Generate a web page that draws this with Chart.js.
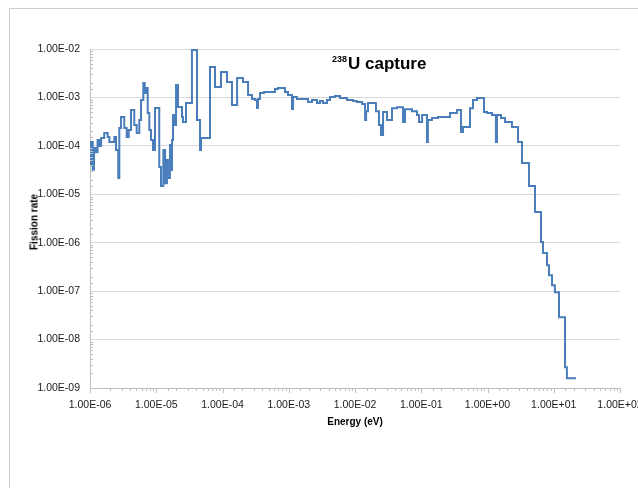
<!DOCTYPE html>
<html>
<head>
<meta charset="utf-8">
<script src="https://cdn.jsdelivr.net/npm/chart.js@4.4.1/dist/chart.umd.min.js"></script>
<style>
  html, body { margin: 0; padding: 0; background: #fff; width: 638px; height: 488px; overflow: hidden; }
  #frame { position: absolute; left: 9px; top: 8px; width: 660px; height: 520px; border: 1px solid #cfcfcf; box-sizing: border-box; }
  #wrap { position: absolute; left: 0; top: 0; width: 660px; height: 470px; }
  .title { position: absolute; left: 332px; top: 54px; font: bold 17px "Liberation Sans", Arial, sans-serif; color: #000; white-space: nowrap; line-height: 20px; }
  .title sup { font-size: 9px; line-height: 0; vertical-align: 7px; margin-right: 1px; }
  .ytitle { position: absolute; left: 34px; top: 222px; transform: translate(-50%, -50%) rotate(-90deg); font: bold 10px "Liberation Sans", Arial, sans-serif; color: #000; white-space: nowrap; }
  .xtitle { position: absolute; left: 355px; top: 421px; transform: translate(-50%, -50%); font: bold 10px "Liberation Sans", Arial, sans-serif; color: #000; white-space: nowrap; }
</style>
</head>
<body>
<div id="frame"></div>
<div id="wrap"><canvas id="c" width="660" height="470"></canvas></div>
<div class="title"><sup>238</sup>U capture</div>
<div class="ytitle">Fission rate</div>
<div class="xtitle">Energy (eV)</div>
<script>
// Group boundaries (eV); bin i spans binEdges[i] .. binEdges[i+1]
const binEdges = [
  1.00e-6, 1.035e-6, 1.10e-6, 1.15e-6, 1.23e-6, 1.30e-6, 1.38e-6, 1.47e-6, 1.64e-6, 1.85e-6,
  1.96e-6, 2.33e-6, 2.47e-6, 2.67e-6, 2.77e-6, 2.94e-6, 3.29e-6, 3.58e-6, 3.84e-6, 4.16e-6,
  4.66e-6, 5.07e-6, 5.55e-6, 5.89e-6, 6.38e-6, 6.69e-6, 7.00e-6, 7.43e-6, 7.86e-6, 8.33e-6,
  8.93e-6, 9.57e-6, 1.11e-5, 1.18e-5, 1.28e-5, 1.36e-5, 1.45e-5, 1.50e-5, 1.61e-5, 1.67e-5,
  1.73e-5, 1.79e-5, 1.92e-5, 1.99e-5, 2.13e-5, 2.45e-5, 2.53e-5, 2.81e-5, 3.46e-5, 4.12e-5,
  4.58e-5, 4.74e-5, 6.48e-5, 7.71e-5, 9.49e-5, 1.17e-4, 1.39e-4, 1.66e-4, 2.04e-4, 2.43e-4,
  2.79e-4, 3.09e-4, 3.32e-4, 3.43e-4, 3.68e-4, 4.23e-4, 6.20e-4, 6.88e-4, 8.78e-4, 9.74e-4,
  1.12e-3, 1.16e-3, 1.33e-3, 1.95e-3, 2.24e-3, 2.67e-3, 2.96e-3, 3.29e-3, 3.78e-3, 4.19e-3,
  4.99e-3, 5.94e-3, 7.57e-3, 9.33e-3, 1.07e-2, 1.28e-2, 1.42e-2, 1.47e-2, 1.57e-2, 2.07e-2,
  2.30e-2, 2.47e-2, 2.65e-2, 3.04e-2, 3.62e-2, 4.31e-2, 5.30e-2, 5.68e-2, 7.25e-2, 8.63e-2,
  9.25e-2, 1.03e-1, 1.22e-1, 1.26e-1, 1.45e-1, 1.79e-1, 2.72e-1, 3.46e-1, 3.98e-1, 4.27e-1,
  5.44e-1, 6.04e-1, 6.94e-1, 8.86e-1, 9.83e-1, 1.17, 1.34, 1.39, 1.60, 1.84,
  2.34, 2.89, 3.32, 4.23, 5.21, 6.42, 6.88, 7.91, 8.48, 9.41,
  10.4, 12.0, 14.8, 15.8, 21.7
];

// Group-wise rate, one value per bin
const captureRate = [
  4.0e-5, 1.2e-4, 3.2e-5, 9.0e-5, 7.4e-5, 1.32e-4, 9.9e-5, 1.45e-4, 1.84e-4, 1.52e-4,
  1.2e-4, 1.52e-4, 8.2e-5, 2.16e-5, 2.33e-4, 3.94e-4, 2.33e-4, 1.52e-4, 2.12e-4, 5.5e-4,
  2.69e-4, 1.84e-4, 3.41e-4, 8.8e-4, 1.99e-3, 1.23e-3, 1.56e-3, 4.76e-4, 2.12e-4, 1.32e-4,
  8.2e-5, 6.04e-4, 3.65e-5, 1.48e-5, 8.2e-5, 1.7e-5, 5.09e-5, 2.16e-5, 1.04e-4, 3.16e-5,
  1.32e-4, 4.33e-4, 2.69e-4, 1.8e-3, 6.33e-4, 3.94e-4, 3.1e-4, 7.66e-4, 9.53e-3, 3.41e-4,
  8.2e-5, 1.45e-4, 4.25e-3, 1.64e-3, 3.35e-3, 2.08e-3, 6.97e-4, 2.52e-3, 2.08e-3, 1.12e-3,
  9.27e-4, 8.8e-4, 6.04e-4, 9.27e-4, 1.23e-3, 1.29e-3, 1.49e-3, 1.56e-3, 1.29e-3, 1.12e-3,
  5.8e-4, 1.02e-3, 9.3e-4, 8.0e-4, 8.8e-4, 7.7e-4, 8.4e-4, 7.7e-4, 8.8e-4, 1.02e-3,
  1.07e-3, 9.7e-4, 8.8e-4, 8.4e-4, 8.0e-4, 7.3e-4, 3.4e-4, 5.2e-4, 7.7e-4, 5.2e-4,
  2.7e-4, 1.67e-4, 5.0e-4, 3.4e-4, 6.0e-4, 6.3e-4, 3.1e-4, 5.7e-4, 5.2e-4, 4.33e-4,
  3.1e-4, 4.33e-4, 1.2e-4, 3.4e-4, 3.75e-4, 3.94e-4, 4.76e-4, 5.5e-4, 1.93e-4, 2.45e-4,
  6.0e-4, 8.8e-4, 9.7e-4, 5.0e-4, 4.76e-4, 4.33e-4, 1.2e-4, 4.33e-4, 3.75e-4, 3.1e-4,
  2.45e-4, 1.2e-4, 4.4e-5, 1.48e-5, 4.3e-6, 1.03e-6, 6.1e-7, 3.44e-7, 2.14e-7, 1.33e-7,
  9.5e-8, 2.9e-8, 2.69e-9, 1.59e-9
];

// Axis limits (decades)
const energyRange = [1e-6, 1e2];
const rateRange = [1e-9, 1e-2];

// Step points: each bin value starts at its lower edge, last value closes at the top edge
const points = captureRate.map((v, i) => ({ x: binEdges[i], y: v }));
points.push({ x: binEdges[binEdges.length - 1], y: captureRate[captureRate.length - 1] });

function isDecade(v) {
  const l = Math.log10(v);
  return Math.abs(l - Math.round(l)) < 1e-6;
}
function sciLabel(v) {
  const e = Math.round(Math.log10(v));
  return '1.00E' + (e < 0 ? '-' : '+') + String(Math.abs(e)).padStart(2, '0');
}

// Short tick marks for every 1..9 step along both log axes
const minorTicks = {
  id: 'minorTicks',
  afterDraw(chart) {
    const ctx = chart.ctx;
    const xs = chart.scales.x, ys = chart.scales.y;
    ctx.save();
    ctx.strokeStyle = '#bfbfbf';
    ctx.lineWidth = 1;
    ctx.beginPath();
    xs.ticks.forEach(t => {
      const px = Math.round(xs.getPixelForValue(t.value)) + 0.5;
      const len = isDecade(t.value) ? 5 : 3;
      ctx.moveTo(px, xs.top);
      ctx.lineTo(px, xs.top + len);
    });
    ys.ticks.forEach(t => {
      if (isDecade(t.value)) return;
      const py = Math.round(ys.getPixelForValue(t.value)) + 0.5;
      ctx.moveTo(ys.right, py);
      ctx.lineTo(ys.right + 3, py);
    });
    ctx.stroke();
    ctx.restore();
  }
};

Chart.defaults.font.family = '"Liberation Sans", Arial, sans-serif';
Chart.defaults.font.size = 10.5;
Chart.defaults.color = '#1a1a1a';

new Chart(document.getElementById('c'), {
  type: 'line',
  data: {
    datasets: [{
      data: points,
      stepped: true,
      borderColor: '#4a7ebb',
      borderWidth: 2,
      pointRadius: 0,
      fill: false
    }]
  },
  options: {
    responsive: false,
    devicePixelRatio: 1,
    animation: false,
    layout: { padding: { left: 0, top: 49, right: 40, bottom: 52 } },
    plugins: { legend: { display: false }, tooltip: { enabled: false } },
    scales: {
      x: {
        type: 'logarithmic',
        min: energyRange[0],
        max: energyRange[1],
        afterFit: s => { s.height = 30; },
        grid: { display: false, drawTicks: false },
        border: { display: true, color: '#bfbfbf', width: 1 },
        ticks: {
          autoSkip: false,
          maxRotation: 0,
          padding: 11,
          callback: v => isDecade(v) ? sciLabel(v) : ''
        }
      },
      y: {
        type: 'logarithmic',
        min: rateRange[0],
        max: rateRange[1],
        afterFit: s => { s.width = 90; },
        grid: {
          drawTicks: false,
          color: c => (c.tick && isDecade(c.tick.value)) ? '#d9d9d9' : 'rgba(0,0,0,0)',
          lineWidth: 1
        },
        border: { display: true, color: '#bfbfbf', width: 1 },
        ticks: {
          autoSkip: false,
          padding: 10,
          callback: v => isDecade(v) ? sciLabel(v) : ''
        }
      }
    }
  },
  plugins: [minorTicks]
});
</script>
</body>
</html>
